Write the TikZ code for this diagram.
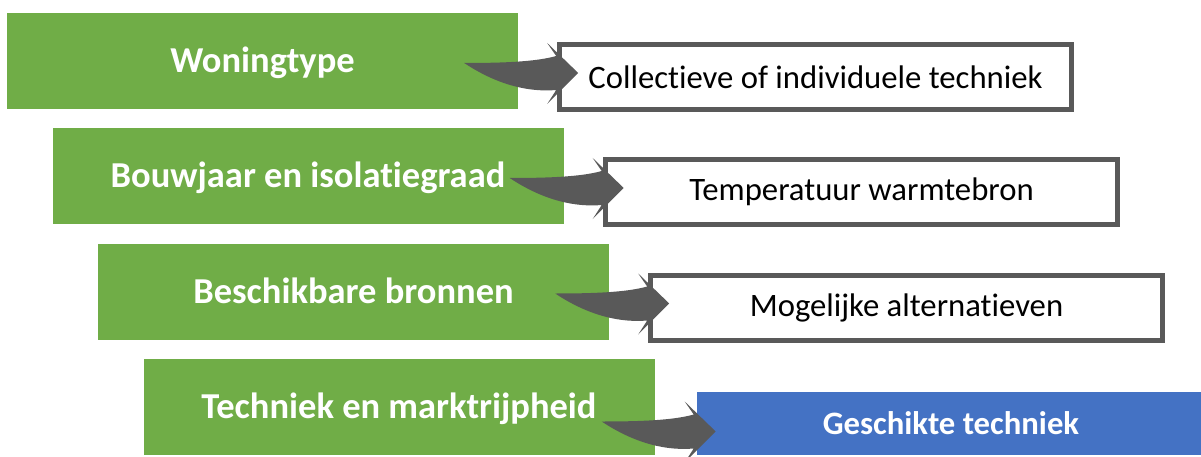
\documentclass[tikz,border=0pt]{standalone}
\usepackage{fontspec}
\setmainfont{Carlito}[Ligatures={NoCommon,NoContextual}, RawFeature={-liga;-clig;-dlig}]
\usetikzlibrary{calc}
\definecolor{gGreen}{HTML}{70AD47}
\definecolor{gBlue}{HTML}{4472C4}
\definecolor{gGray}{HTML}{595959}
\newcommand{\gtext}[1]{\raisebox{-12pt}[0pt][0pt]{#1}}
\tikzset{
  greenbox/.style={fill=gGreen, draw=none, minimum width=511pt, minimum height=96pt, inner sep=0pt,
    text=white, font=\fontsize{36.5}{40}\selectfont\bfseries},
  whitebox/.style={fill=white, draw=gGray, line width=5pt, minimum width=512pt, minimum height=65pt, inner sep=0pt,
    text=black, font=\fontsize{32.7}{38}\selectfont},
  bluebox/.style={fill=gBlue, draw=none, minimum width=508pt, minimum height=63pt, inner sep=0pt,
    text=white, font=\fontsize{32.7}{38}\selectfont\bfseries},
  arrowfill/.style={fill=gGray, draw=none},
}
\newcommand{\curvedarrow}[1]{%
  \fill[arrowfill] (#1) .. controls +(36,0) and +(-21,6) .. ++(92,-7)
    -- ++(-9,-13) -- ++(31,30) -- ++(-31,31) -- ++(9,-14)
    .. controls +(-36,3) and +(24,16) .. (#1) -- cycle;}
\begin{document}
\begin{tikzpicture}[x=1pt,y=-1pt]
\useasboundingbox (0,0) rectangle (1201,457);
\begin{scope}
\clip (0,0) rectangle (1201,457);
\node[greenbox] (g1) at (262.5,61) {\gtext{Woningtype}};
\node[greenbox] (g2) at (308,176) {\gtext{Bouwjaar en isolatiegraad}};
\node[greenbox] (g3) at (353.5,291.5) {\gtext{Beschikbare bronnen}};
\node[greenbox] (g4) at (399,406.5) {\gtext{Techniek en marktrijpheid}};
\node[whitebox] (w1) at (815.5,77) {Collectieve of individuele techniek};
\node[whitebox] (w2) at (861.5,192) {Temperatuur warmtebron};
\node[whitebox] (w3) at (906.5,307.5) {Mogelijke alternatieven};
\node[bluebox] (b4) at (951,423.5) {Geschikte techniek};
\coordinate (t1) at ($(g1.east)+(-54,2)$);
\coordinate (t2) at ($(g2.east)+(-54,2)$);
\coordinate (t3) at ($(g3.east)+(-54,2)$);
\coordinate (t4) at ($(g4.east)+(-53,15)$);
\curvedarrow{t1}
\curvedarrow{t2}
\curvedarrow{t3}
\curvedarrow{t4}
\end{scope}
\end{tikzpicture}
\end{document}
